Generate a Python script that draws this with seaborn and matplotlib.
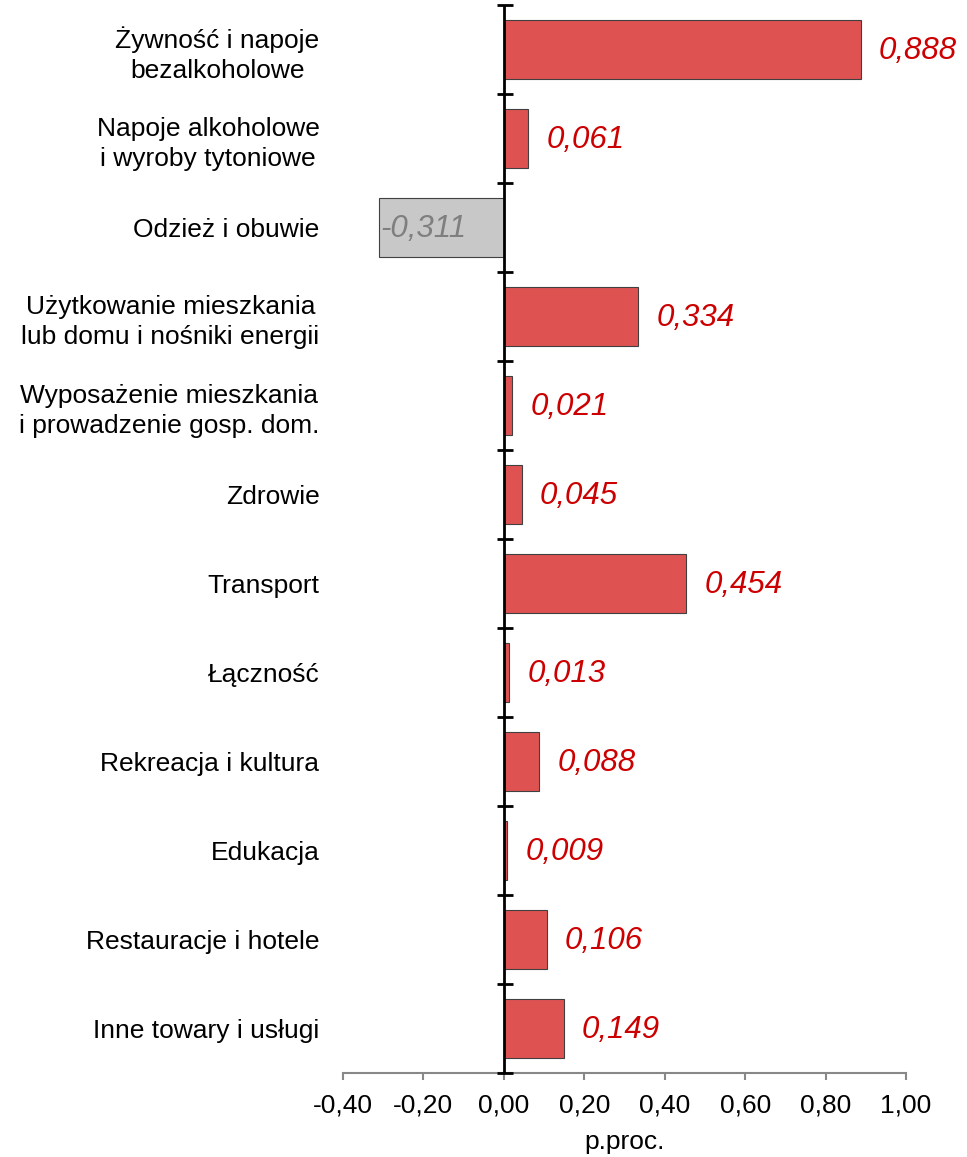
import numpy as np
import pandas as pd
import seaborn as sns
import matplotlib.pyplot as plt
from matplotlib.ticker import FuncFormatter

# categories and contributions (p.proc.)
categories = [
    'Żywność i napoje\nbezalkoholowe',
    'Napoje alkoholowe\ni wyroby tytoniowe',
    'Odzież i obuwie',
    'Użytkowanie mieszkania\nlub domu i nośniki energii',
    'Wyposażenie mieszkania\ni prowadzenie gosp. dom.',
    'Zdrowie',
    'Transport',
    'Łączność',
    'Rekreacja i kultura',
    'Edukacja',
    'Restauracje i hotele',
    'Inne towary i usługi',
]
values = [0.888, 0.061, -0.311, 0.334, 0.021, 0.045, 0.454, 0.013, 0.088, 0.009, 0.106, 0.149]
x_ticks = [-0.4, -0.2, 0.0, 0.2, 0.4, 0.6, 0.8, 1.0]

pos_color = '#DF5252'
neg_color = '#C8C8C8'
pos_text = '#CC0000'
neg_text = '#7F7F7F'

sns.set_style('white')
plt.rcParams['font.family'] = ['Liberation Sans', 'DejaVu Sans']
plt.rcParams['text.color'] = 'black'
plt.rcParams['xtick.color'] = '#888888'
plt.rcParams['xtick.labelcolor'] = 'black'
plt.rcParams['ytick.labelcolor'] = 'black'
plt.rcParams['axes.labelcolor'] = 'black'

data = pd.DataFrame({'kat': categories, 'val': values})
colors = [pos_color if v >= 0 else neg_color for v in values]

fig = plt.figure(figsize=(9.67, 11.57), dpi=100)
ax = fig.add_axes([0.3547, 0.0726, 0.9370 - 0.3547, 0.9957 - 0.0726])

sns.barplot(data=data, x='val', y='kat', hue='kat', palette=colors, legend=False,
            orient='h', width=0.67, saturation=1, edgecolor='#404040', linewidth=0.8, ax=ax)

n = len(categories)
ax.set_xlim(-0.4, 1.0)
ax.set_ylim(n - 0.5, -0.5)

# zero line with category separators
ax.axvline(0, color='black', lw=2, zorder=5)
ax.plot([0.003] * (n + 1), np.arange(n + 1) - 0.5, linestyle='none', marker='_',
        ms=12, mew=2, color='black', zorder=6, clip_on=False)

# value labels
for i, v in enumerate(values):
    s = f'{v:.3f}'.replace('.', ',')
    if v >= 0:
        ax.annotate(s, (v, i), xytext=(13, -1), textcoords='offset points',
                    ha='left', va='center', fontsize=22.5, style='italic', color=pos_text)
    else:
        ax.annotate(s, (v, i), xytext=(1, -1), textcoords='offset points',
                    ha='left', va='center', fontsize=22.5, style='italic', color=neg_text)

ax.set_xticks(x_ticks)
ax.xaxis.set_major_formatter(FuncFormatter(lambda x, p: f'{x:.2f}'.replace('.', ',')))
ax.set_yticks(range(n))
ax.set_yticklabels(categories, multialignment='center', linespacing=1.3)
ax.tick_params(axis='y', length=0, pad=17, labelsize=19)
ax.tick_params(axis='x', bottom=True, direction='out', length=5, width=1.5, color='#888888',
               labelsize=19, pad=10)

for side in ['top', 'right', 'left']:
    ax.spines[side].set_visible(False)
ax.spines['bottom'].set_color('#888888')
ax.spines['bottom'].set_linewidth(1.5)

ax.set_ylabel('')
ax.set_xlabel('p.proc.', fontsize=19, labelpad=9)

fig.savefig('out.png', dpi=100)
